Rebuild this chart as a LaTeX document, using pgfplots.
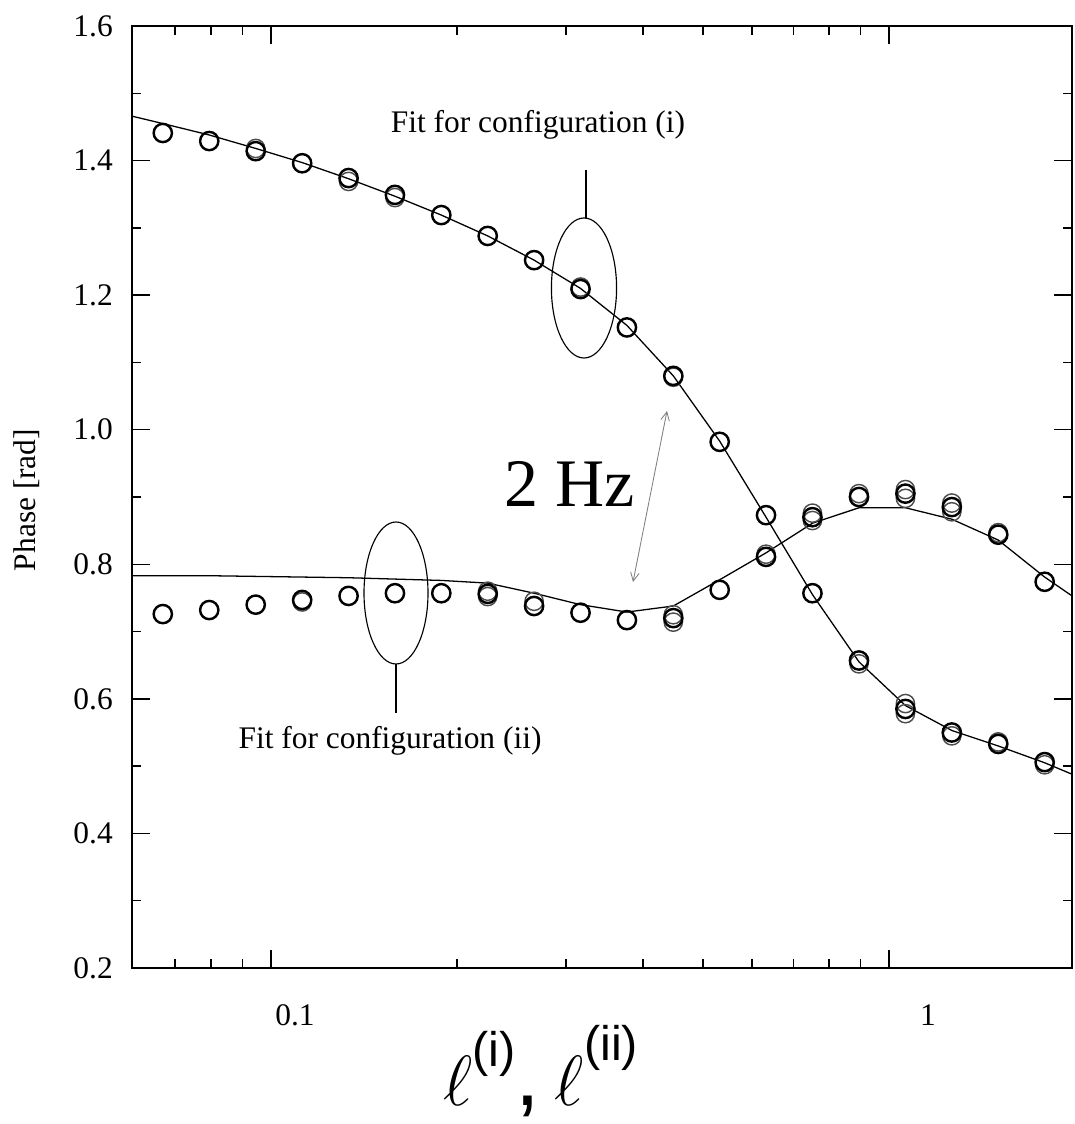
\documentclass[border=0pt]{standalone}
\usepackage{fontspec}
\setmainfont{Liberation Serif}
\setsansfont{Liberation Sans}
\usepackage{pgfplots}
\usepackage{pgfplotstable}
\pgfplotsset{compat=1.18}
\usetikzlibrary{arrows.meta}

% measured phase, configuration (i)
\pgfplotstableread{
x        y
0.06685  1.441
0.07948  1.429
0.09449  1.414
0.11234  1.396
0.13354  1.374
0.15873  1.349
0.18867  1.319
0.22424  1.288
0.26655  1.252
0.31689  1.209
0.37670  1.152
0.44771  1.080
0.53211  0.982
0.63241  0.873
0.75180  0.757
0.89402  0.657
1.0629   0.585
1.2634   0.550
1.5020   0.533
1.7856   0.506
}\dataA
% repeated runs, configuration (i)
\pgfplotstableread{
x        y
0.09449  1.418
0.13354  1.369
0.15873  1.345
0.31689  1.212
0.44771  1.078
0.89402  0.652
1.0629   0.578
1.0629   0.593
1.2634   0.545
1.5020   0.536
1.7856   0.502
}\dataAr
% measured phase, configuration (ii)
\pgfplotstableread{
x        y
0.06685  0.726
0.07948  0.732
0.09449  0.740
0.11234  0.747
0.13354  0.753
0.15873  0.757
0.18867  0.757
0.22424  0.756
0.26655  0.738
0.31689  0.728
0.37670  0.717
0.44771  0.720
0.53211  0.762
0.63241  0.811
0.75180  0.870
0.89402  0.900
1.0629   0.905
1.2634   0.885
1.5020   0.844
1.7856   0.774
}\dataB
% repeated runs, configuration (ii)
\pgfplotstableread{
x        y
0.11234  0.744
0.22424  0.752
0.22424  0.760
0.26655  0.745
0.44771  0.714
0.44771  0.725
0.63241  0.815
0.75180  0.865
0.75180  0.876
0.89402  0.905
1.0629   0.898
1.0629   0.911
1.2634   0.878
1.2634   0.891
1.5020   0.847
}\dataBr
% fit, configuration (i)
\pgfplotstableread{
x        y
0.0596   1.466
0.06685  1.455
0.07948  1.438
0.09449  1.418
0.11234  1.397
0.13354  1.373
0.15873  1.347
0.18867  1.319
0.22424  1.288
0.26655  1.252
0.31689  1.210
0.37670  1.155
0.44771  1.080
0.53211  0.983
0.63241  0.870
0.75180  0.755
0.89402  0.655
1.0629   0.590
1.2634   0.553
1.5020   0.530
1.7856   0.505
1.977    0.488
}\fitA
% fit, configuration (ii)
\pgfplotstableread{
x        y
0.0596   0.783
0.06685  0.783
0.07948  0.783
0.09449  0.782
0.11234  0.781
0.13354  0.780
0.15873  0.778
0.18867  0.776
0.22424  0.772
0.26655  0.757
0.31689  0.740
0.37670  0.729
0.44771  0.738
0.53211  0.777
0.63241  0.817
0.75180  0.861
0.89402  0.884
1.0629   0.884
1.2634   0.867
1.5020   0.836
1.7856   0.781
1.977    0.753
}\fitB

\begin{document}
\begin{tikzpicture}
\path[use as bounding box] (-46.2pt,-54.6pt) rectangle (330.05pt,338.8pt);
\begin{axis}[
    at={(0,0)}, anchor=south west,
    scale only axis,
    width=329pt, height=329.7pt,
    xmode=log,
    xmin=0.0596, xmax=1.977,
    ymin=0.2, ymax=1.6,
    xtick={0.1,1}, xticklabels={},
    minor xtick={0.07,0.08,0.09,0.2,0.3,0.4,0.5,0.6,0.7,0.8,0.9},
    ytick={0.2,0.4,0.6,0.8,1.0,1.2,1.4,1.6},
    minor ytick={0.3,0.5,0.7,0.9,1.1,1.3,1.5},
    tick align=inside,
    major tick length=6.3pt,
    minor tick length=3.2pt,
    every tick/.style={black, line width=0.5pt},
    axis line style={black, line width=0.6pt},
    yticklabel style={font=\fontsize{11}{13}\selectfont, xshift=-3.2pt,
        /pgf/number format/fixed, /pgf/number format/fixed zerofill,
        /pgf/number format/precision=1},
    /pgf/number format/assume math mode=true,
]
\addplot[black, line width=0.45pt, no marks] table[x=x, y=y] {\fitA};
\addplot[black, line width=0.45pt, no marks] table[x=x, y=y] {\fitB};
\addplot[only marks, mark=o, mark size=3.2pt, mark options={line width=0.5pt, black!70}] table[x=x, y=y] {\dataAr};
\addplot[only marks, mark=o, mark size=3.2pt, mark options={line width=0.5pt, black!70}] table[x=x, y=y] {\dataBr};
\addplot[only marks, mark=o, mark size=3.2pt, mark options={line width=0.85pt, black}] table[x=x, y=y] {\dataA};
\addplot[only marks, mark=o, mark size=3.2pt, mark options={line width=0.85pt, black}] table[x=x, y=y] {\dataB};
\end{axis}

% x tick labels
\node[font=\fontsize{11}{13}\selectfont] at (57.05pt,-16.45pt) {0.1};
\node[font=\fontsize{11}{13}\selectfont] at (278.6pt,-16.45pt) {1};

% axis titles
\node[rotate=90, font=\fontsize{11}{13}\selectfont] at (-36.75pt,163.8pt) {Phase [rad]};
\node[inner sep=0pt] at (143pt,-36pt) {\fontsize{31}{31}\selectfont$\ell$\raisebox{0.95ex}{\sffamily\fontsize{17}{17}\selectfont(i)}\sffamily,\,$\ell$\raisebox{0.95ex}{\sffamily\fontsize{17}{17}\selectfont(ii)}};

% annotations
\node[font=\fontsize{11}{13}\selectfont] at (142.1pt,295.05pt) {Fit for configuration (i)};
\draw[line width=0.4pt] (158.9pt,279.3pt) -- (158.9pt,262.5pt);
\draw[line width=0.4pt] (158.2pt,238pt) ellipse [x radius=11.4pt, y radius=24.5pt];

\draw[line width=0.4pt] (92.4pt,131.25pt) ellipse [x radius=11.2pt, y radius=24.85pt];
\draw[line width=0.4pt] (92.4pt,106.4pt) -- (92.4pt,89.25pt);
\node[font=\fontsize{11}{13}\selectfont] at (90.3pt,79.45pt) {Fit for configuration (ii)};

\node[anchor=base, font=\fontsize{23.8}{26}\selectfont] at (153.3pt,161.35pt) {2 Hz};
\draw[gray, line width=0.3pt, {Straight Barb[length=3pt, width=3pt]}-{Straight Barb[length=3pt, width=3pt]}] (175.35pt,135.1pt) -- (187.25pt,194.95pt);
\end{tikzpicture}
\end{document}
